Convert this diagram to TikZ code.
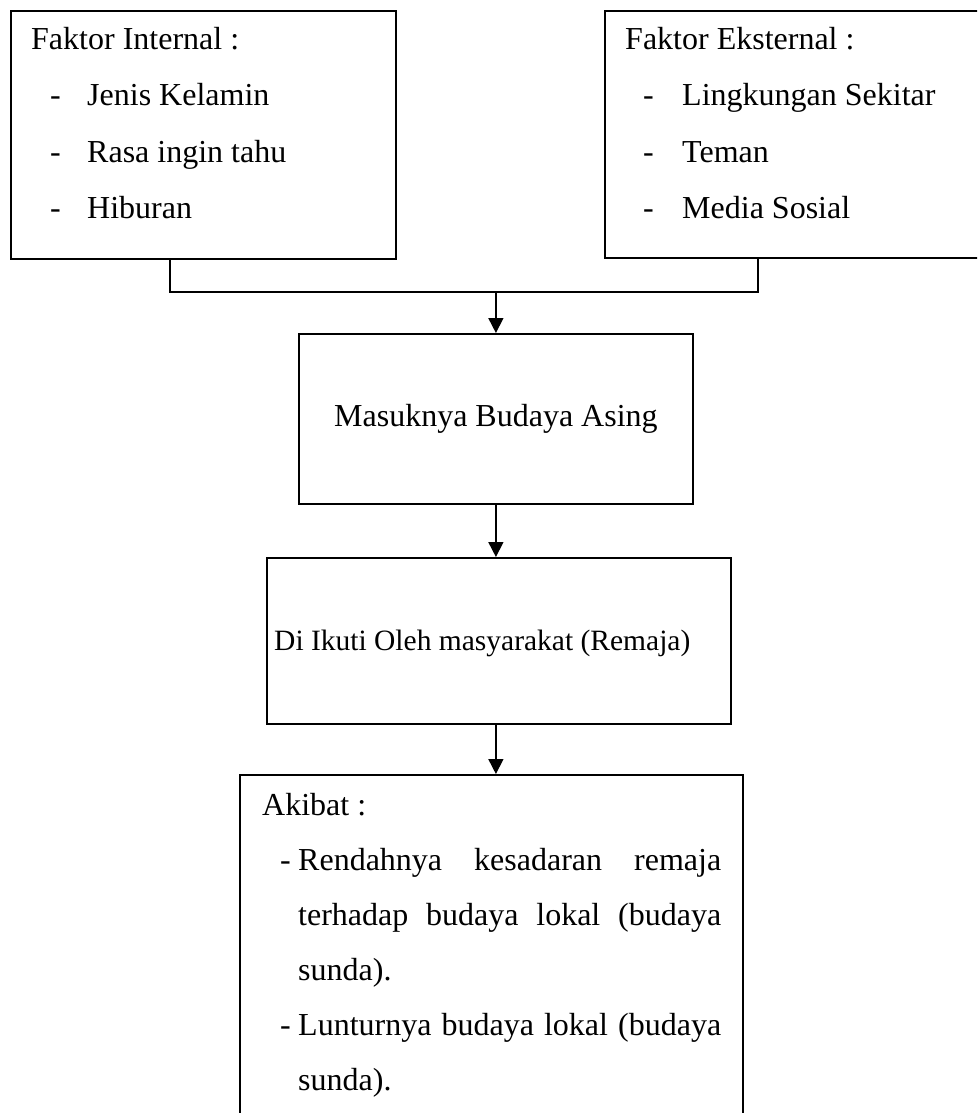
\documentclass[tikz,border=0pt]{standalone}
\usepackage{fontspec}
\setmainfont{Liberation Serif}
\usepackage{tikz}
\usetikzlibrary{arrows.meta,positioning,calc}
\newcommand{\bigtxt}{\fontsize{32}{56}\selectfont}
\newcommand{\midtxt}{\fontsize{29.5}{40}\selectfont}

\begin{document}
\begin{tikzpicture}[x=1pt,y=-1pt,
    box/.style={draw,line width=1.8pt,inner sep=0pt,anchor=north west},
    txt/.style={anchor=base west,inner sep=0pt,font=\bigtxt},
    link/.style={line width=1.6pt},
    arr/.style={line width=1.6pt,-{Triangle[width=15pt,length=15pt]}}]
  \useasboundingbox (0,0) rectangle (977,1113);
  \clip (0,0) rectangle (977,1113);
  \node[box,minimum width=385pt,minimum height=248pt] (intl) at (10,10) {};
  \node[box,minimum width=385pt,minimum height=247pt] (extl) at (604,10) {};
  \node[box,minimum width=394pt,minimum height=170pt,font=\bigtxt] (masuk) at (298,333) {Masuknya Budaya Asing};
  \node[box,minimum width=464pt,minimum height=166pt] (ikut) at (266,557) {};
  \node[box,minimum width=503pt,minimum height=360pt] (akibat) at (239,774) {};

  \node[txt] (intl-h) at (31,50) {Faktor Internal :};
  \foreach \t [count=\i] in {Jenis Kelamin,Rasa ingin tahu,Hiburan}
    {\node[txt] (intl-d\i) at (50,50+56*\i) {-};
     \node[txt] (intl-t\i) at (87,50+56*\i) {\t};}
  \node[txt] (extl-h) at (625,50) {Faktor Eksternal :};
  \foreach \t [count=\i] in {Lingkungan Sekitar,Teman,Media Sosial}
    {\node[txt] (extl-d\i) at (643,50+56*\i) {-};
     \node[txt] (extl-t\i) at (682,50+56*\i) {\t};}

  \node[txt,font=\midtxt] (ikut-t) at (274,650) {Di Ikuti Oleh masyarakat (Remaja)};

  \node[txt] (akibat-h) at (262,815) {Akibat :};
  \node[txt] (akibat-d1) at (280,870) {-};
  \node[txt] (akibat-l1) at (298,870) {\makebox[423pt][s]{Rendahnya kesadaran remaja}};
  \node[txt] (akibat-l2) at (298,925) {\makebox[423pt][s]{terhadap budaya lokal (budaya}};
  \node[txt] (akibat-l3) at (298,980) {sunda).};
  \node[txt] (akibat-d2) at (280,1035) {-};
  \node[txt] (akibat-l4) at (298,1035) {\makebox[423pt][s]{Lunturnya budaya lokal (budaya}};
  \node[txt] (akibat-l5) at (298,1090) {sunda).};

  \coordinate (jl) at (170,292);
  \coordinate (jr) at (758,292);
  \draw[link] (intl.south -| jl) -- (jl) -- (jr) -- (extl.south -| jr);
  \draw[arr] (masuk.north |- jl) -- (masuk.north);
  \draw[arr] (masuk.south) -- (masuk.south |- ikut.north);
  \draw[arr] (masuk.south |- ikut.south) -- (masuk.south |- akibat.north);
\end{tikzpicture}
\end{document}
